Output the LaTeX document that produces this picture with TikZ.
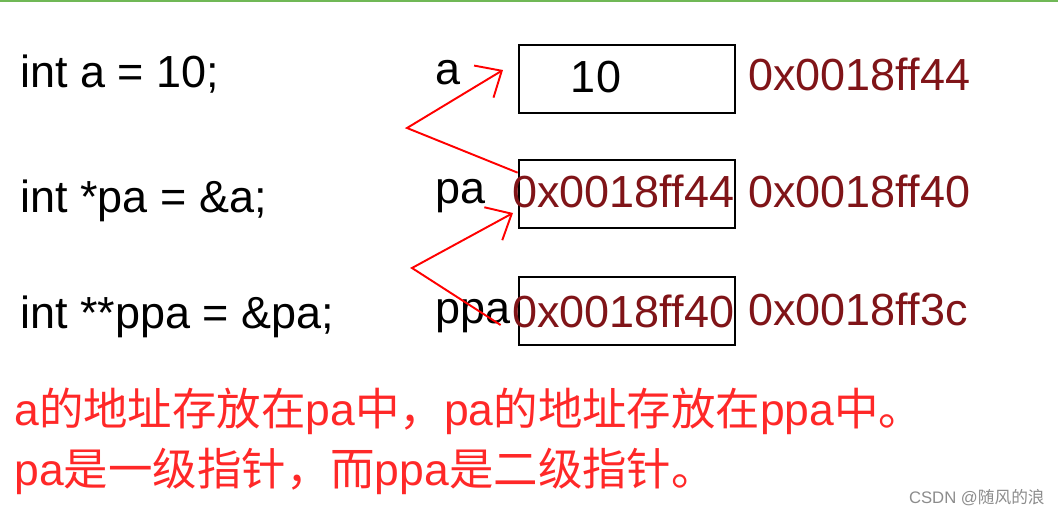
\documentclass[tikz,border=0pt]{standalone}
\usepackage{fontspec}
\setmainfont{Liberation Sans}
\newfontfamily\cjk{Noto Sans CJK SC}
\usetikzlibrary{arrows.meta,positioning,calc}
\usepackage{xcolor}
\definecolor{addrred}{RGB}{128,20,24}
\definecolor{notered}{RGB}{255,40,40}
\definecolor{topgreen}{RGB}{112,184,86}
\tikzset{
    code/.style={anchor=base west, inner sep=0pt, font=\fontsize{25.6}{30}\selectfont},
    addr/.style={code, text=addrred},
    note/.style={code, text=notered, font=\fontsize{25.3}{30}\selectfont},
    cell/.style={rectangle, draw, line width=1.6pt, minimum width=4.32cm, minimum height=1.36cm, inner sep=0pt},
    line/.style={draw=red, line width=1.1pt, -{Straight Barb[length=0.42cm, width=0.75cm, line width=1.1pt]}},
    watermark/.style={anchor=base east, inner sep=0pt, text=black!45, font=\fontsize{9.5}{11}\selectfont}
}
\begin{document}
\begin{tikzpicture}[x=0.02cm, y=-0.02cm]
    \useasboundingbox (0,0) rectangle (1058,514);
    \draw [topgreen, line width=1.2pt] (0,1) -- (1058,1);

    % source lines
    \node [code] (lineA) at (20,87) {int a = 10;};
    \node [code] (linePA) at (20,212) {int *pa = \&a;};
    \node [code] (linePPA) at (20,328) {int **ppa = \&pa;};

    % memory cells
    \node [cell] (cellA) at (627,79) {};
    \node [cell] (cellPA) at (627,194) {};
    \node [cell] (cellPPA) at (627,311) {};
    \node [code] (nameA) at (435,84) {a};
    \node [code] (namePA) at (435,203) {pa};
    \node [code] (namePPA) at (435,323) {ppa};
    \node [code, anchor=base] (valA) at (596,92) {10};
    \node [addr] (valPA) at (512,207) {0x0018ff44};
    \node [addr] (valPPA) at (512,327) {0x0018ff40};
    \node [addr] (adrA) at (748,90) {0x0018ff44};
    \node [addr] (adrPA) at (748,207) {0x0018ff40};
    \node [addr] (adrPPA) at (748,325) {0x0018ff3c};

    % pointers
    \coordinate (bendA) at (407,128);
    \coordinate (tipA) at (503,70);
    \coordinate (bendPA) at (412,268);
    \coordinate (tipPA) at (513,213);
    \path [line] ([yshift=-8]cellPA.north west) -- (bendA) -- (tipA);
    \path [line] ($(cellPPA.west)+(-17,14)$) -- (bendPA) -- (tipPA);

    % notes
    \node [note] (noteA) at (14,425) {a{\cjk 的地址存放在}pa{\cjk 中，}pa{\cjk 的地址存放在}ppa{\cjk 中。}};
    \node [note] (noteB) at (14,485) {pa{\cjk 是一级指针，而}ppa{\cjk 是二级指针。}};
    \node [watermark] (csdn) at (1045,503) {CSDN @{\cjk 随风的浪}};
\end{tikzpicture}
\end{document}
